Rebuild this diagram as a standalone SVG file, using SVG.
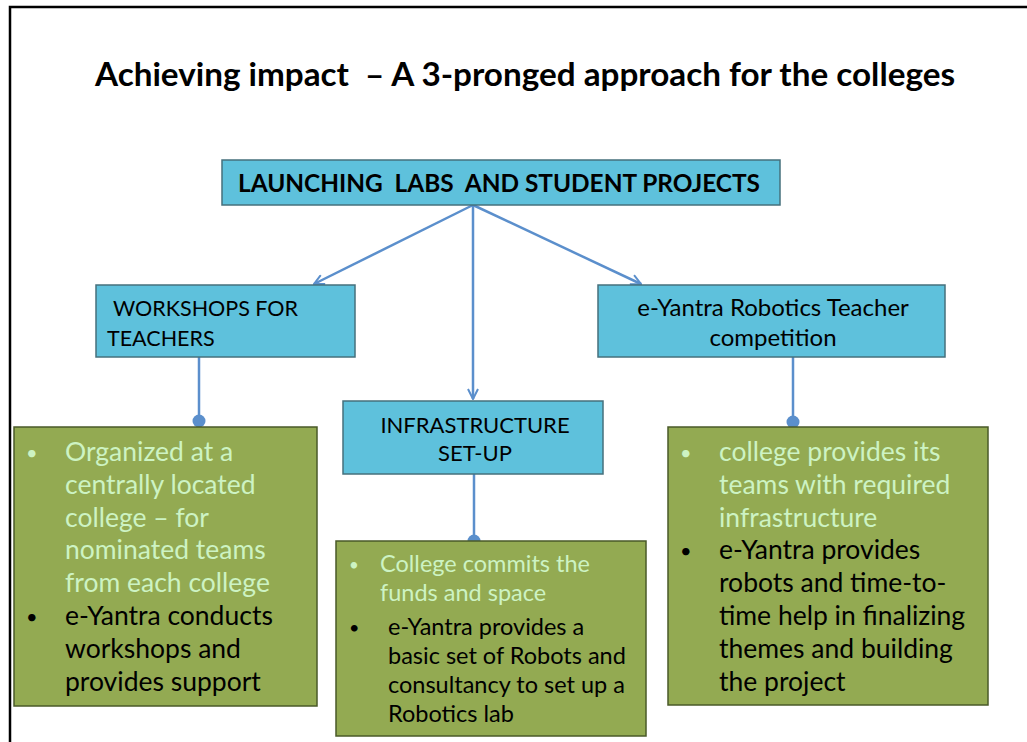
<svg xmlns="http://www.w3.org/2000/svg" width="1027" height="742" viewBox="0 0 1027 742">
<defs>
<style>
.t{font-family:Lato,"Open Sans","Liberation Sans",sans-serif;fill:#000}
.b{font-weight:bold}
.cy{fill:#5ec1dc;stroke:#46707c;stroke-width:1.5}
.gr{fill:#93aa52;stroke:#4a5a28;stroke-width:1.5}
.lt{fill:#cdf3c3}
.con{stroke:#5b8fcc;stroke-width:2.5;fill:none}
.bl{font-size:20px}
</style>
<marker id="arr" viewBox="0 0 12 12" refX="11" refY="6" markerWidth="12" markerHeight="12" markerUnits="userSpaceOnUse" orient="auto">
<path d="M1,1 L11,6 L1,11" fill="none" stroke="#5b8fcc" stroke-width="2"/>
</marker>
</defs>
<rect width="1027" height="742" fill="#fff"/>
<path d="M10,742 V7 H1027" fill="none" stroke="#000" stroke-width="2.5"/>
<text class="t b" x="95" y="86" font-size="32" textLength="860" lengthAdjust="spacingAndGlyphs" xml:space="preserve">Achieving impact  – A 3-pronged approach for the colleges</text>

<g id="connectors">
<line class="con" x1="473" y1="205" x2="314" y2="284" marker-end="url(#arr)"/>
<line class="con" x1="473" y1="205" x2="473" y2="399" marker-end="url(#arr)"/>
<line class="con" x1="473" y1="205" x2="641" y2="284" marker-end="url(#arr)"/>
<line class="con" x1="199" y1="357" x2="199" y2="421"/>
<circle cx="199" cy="421" r="6.5" fill="#5b8fcc"/>
<line class="con" x1="474" y1="474" x2="474" y2="541"/>
<circle cx="474" cy="541" r="6.5" fill="#5b8fcc"/>
<line class="con" x1="793" y1="357" x2="793" y2="422"/>
<circle cx="793" cy="422" r="6.5" fill="#5b8fcc"/>
</g>

<g id="launch">
<rect class="cy" x="222" y="160" width="558" height="45"/>
<text class="t b" x="238" y="192" font-size="24" textLength="522" lengthAdjust="spacingAndGlyphs" xml:space="preserve">LAUNCHING  LABS  AND STUDENT PROJECTS</text>
</g>

<g id="workshops">
<rect class="cy" x="96" y="285" width="259" height="72"/>
<text class="t" x="113" y="316" font-size="21.5">WORKSHOPS FOR</text>
<text class="t" x="107" y="346" font-size="21.5">TEACHERS</text>
</g>

<g id="competition">
<rect class="cy" x="598" y="285" width="347" height="72"/>
<text class="t" x="773" y="316" font-size="24" text-anchor="middle">e-Yantra Robotics Teacher</text>
<text class="t" x="773" y="346" font-size="24" text-anchor="middle">competition</text>
</g>

<g id="infra">
<rect class="cy" x="343" y="401" width="260" height="73"/>
<text class="t" x="475" y="433" font-size="22" text-anchor="middle">INFRASTRUCTURE</text>
<text class="t" x="475" y="461" font-size="22" text-anchor="middle">SET-UP</text>
</g>

<g id="left-detail">
<rect class="gr" x="14" y="427" width="303" height="279"/>
<g font-size="26.5">
<text class="t lt bl" x="26" y="460">•</text>
<text class="t lt" x="65" y="461">Organized at a</text>
<text class="t lt" x="65" y="494">centrally located</text>
<text class="t lt" x="65" y="527">college – for</text>
<text class="t lt" x="65" y="559">nominated teams</text>
<text class="t lt" x="65" y="592">from each college</text>
<text class="t bl" x="26" y="624">•</text>
<text class="t" x="65" y="625">e-Yantra conducts</text>
<text class="t" x="65" y="658">workshops and</text>
<text class="t" x="65" y="691">provides support</text>
</g>
</g>

<g id="middle-detail">
<rect class="gr" x="336" y="541" width="310" height="195"/>
<g font-size="23.5">
<text class="t lt" x="349" y="571" font-size="17">•</text>
<text class="t lt" x="380" y="572">College commits the</text>
<text class="t lt" x="380" y="601">funds and space</text>
<text class="t" x="349" y="634" font-size="18">•</text>
<text class="t" x="388" y="635">e-Yantra provides a</text>
<text class="t" x="388" y="664">basic set of Robots and</text>
<text class="t" x="388" y="693">consultancy to set up a</text>
<text class="t" x="388" y="722">Robotics lab</text>
</g>
</g>

<g id="right-detail">
<rect class="gr" x="668" y="427" width="320" height="278"/>
<g font-size="26.5">
<text class="t lt bl" x="680" y="460">•</text>
<text class="t lt" x="719" y="461">college provides its</text>
<text class="t lt" x="719" y="494">teams with required</text>
<text class="t lt" x="719" y="527">infrastructure</text>
<text class="t bl" x="680" y="558">•</text>
<text class="t" x="719" y="559">e-Yantra provides</text>
<text class="t" x="719" y="592">robots and time-to-</text>
<text class="t" x="719" y="625">time help in finalizing</text>
<text class="t" x="719" y="658">themes and building</text>
<text class="t" x="719" y="691">the project</text>
</g>
</g>
</svg>
